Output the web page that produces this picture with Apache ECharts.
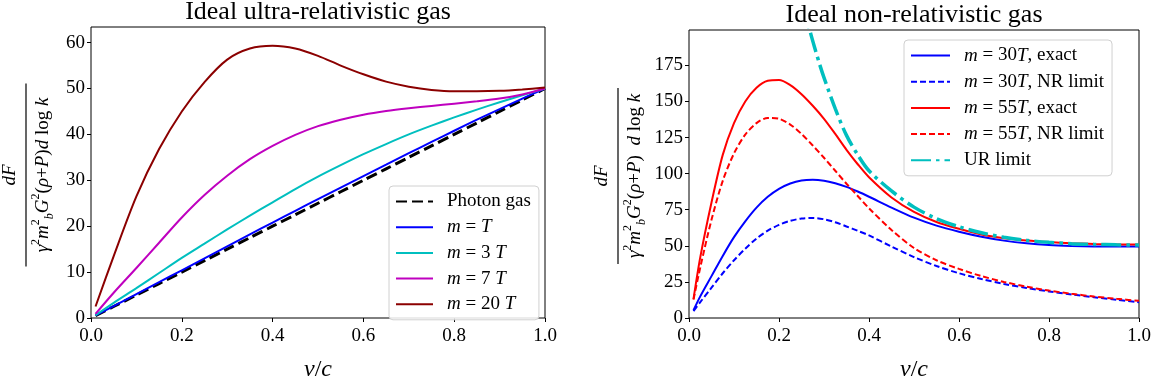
<!DOCTYPE html>
<html>
<head>
<meta charset="utf-8">
<script src="https://cdn.jsdelivr.net/npm/echarts@6/dist/echarts.min.js"></script>
<style>html,body{margin:0;padding:0;background:#fff}#c{width:1161px;height:387px}</style>
</head>
<body>
<div id="c"></div>
<script>
// ---------- data: left panel (ideal ultra-relativistic gas) ----------
const leftX = [0.01, 0.05, 0.10, 0.15, 0.20, 0.25, 0.30, 0.35, 0.40, 0.45, 0.50, 0.55, 0.60, 0.65, 0.70, 0.75, 0.80, 0.85, 0.90, 0.95, 1.00];
const photonGas = [0.5, 2.5, 5.0, 7.5, 10.0, 12.5, 15.0, 17.5, 20.0, 22.5, 25.0, 27.5, 30.0, 32.5, 35.0, 37.5, 40.0, 42.5, 45.0, 47.5, 50.0];
const m1T  = [0.55, 2.6, 5.2, 7.8, 10.4, 13.0, 15.6, 18.2, 20.8, 23.35, 25.9, 28.4, 30.9, 33.4, 35.9, 38.35, 40.8, 43.2, 45.5, 47.8, 50.0];
const m3T  = [0.6, 3.3, 6.5, 9.8, 13.1, 16.2, 19.3, 22.3, 25.2, 28.1, 30.8, 33.3, 35.7, 37.9, 40.0, 41.9, 43.7, 45.4, 47.0, 48.5, 50.0];
const m7T  = [0.9, 5.5, 10.9, 16.4, 21.9, 26.8, 31.0, 34.6, 37.5, 39.9, 41.8, 43.2, 44.3, 45.1, 45.7, 46.2, 46.7, 47.2, 47.8, 48.7, 50.0];
const m20T = [2.5, 13.5, 26.5, 36.8, 45.0, 51.4, 56.3, 58.7, 59.3, 58.7, 57.1, 55.0, 53.1, 51.5, 50.4, 49.7, 49.4, 49.4, 49.5, 49.8, 50.2];

// ---------- data: right panel (ideal non-relativistic gas) ----------
const rightX = [0.01, 0.025, 0.05, 0.075, 0.10, 0.125, 0.15, 0.175, 0.20, 0.225, 0.25, 0.275, 0.30, 0.325, 0.35, 0.375, 0.40, 0.45, 0.50, 0.55, 0.60, 0.65, 0.70, 0.75, 0.80, 0.85, 0.90, 0.95, 1.00];
const m30Exact = [5.4, 15, 29, 43, 56, 67, 76.5, 84, 89.5, 93.2, 95.3, 95.8, 95.1, 93.3, 90.8, 87.6, 84, 76.5, 69.5, 64, 59.8, 56.3, 53.6, 51.7, 50.5, 49.9, 49.6, 49.5, 49.5];
const m30NR    = [4.8, 11, 21, 31, 40, 48, 55, 60.5, 64.5, 67.3, 68.9, 69.3, 68.4, 66.3, 63.4, 60.4, 57.2, 49.5, 42.2, 36, 31, 27, 23.6, 20.8, 18.4, 16.3, 14.4, 12.6, 10.9];
const m55Exact = [13.1, 42, 80, 113, 135, 150, 159.5, 164.3, 164.8, 161.3, 155, 147, 138, 127.5, 116.5, 106.5, 97.5, 83.5, 73.5, 66.5, 61.8, 57.8, 55.3, 53.7, 52.6, 51.8, 51.3, 51.0, 50.9];
const m55NR    = [12.7, 35, 68, 95, 114, 127, 135, 138.6, 138, 134, 127.5, 119.5, 111, 102, 93, 84.5, 76, 61, 48.5, 40, 34, 29, 25, 21.7, 19, 16.8, 14.9, 13.3, 11.9];
const urX      = [0.24, 0.25, 0.26, 0.27, 0.28, 0.29, 0.30, 0.325, 0.35, 0.375, 0.40, 0.45, 0.50, 0.55, 0.60, 0.65, 0.70, 0.75, 0.80, 0.85, 0.90, 0.95, 1.00];
const urLimit  = [243, 226, 210, 197.5, 186.5, 176, 166.5, 145, 126.5, 113, 102, 88, 76.8, 68.8, 63.2, 59, 55.9, 53.8, 52.4, 51.5, 51.0, 50.7, 50.5];

// ---------- ticks ----------
const xTicks = [0, 0.2, 0.4, 0.6, 0.8, 1.0];
const leftYTicks = [0, 10, 20, 30, 40, 50, 60];
const rightYTicks = [0, 25, 50, 75, 100, 125, 150, 175];

const FONT = '"Liberation Serif", "DejaVu Serif", serif';
const pairs = (xs, ys) => xs.map((x, i) => [x, ys[i]]);

const legendLabels = {
  'Photon gas': 'Photon gas',
  'm = T': '{i|m} = {i|T}',
  'm = 3 T': '{i|m} = 3 {i|T}',
  'm = 7 T': '{i|m} = 7 {i|T}',
  'm = 20 T': '{i|m} = 20 {i|T}',
  'm = 30 T, exact': '{i|m} = 30{i|T}, exact',
  'm = 30 T, NR limit': '{i|m} = 30{i|T}, NR limit',
  'm = 55 T, exact': '{i|m} = 55{i|T}, exact',
  'm = 55 T, NR limit': '{i|m} = 55{i|T}, NR limit',
  'UR limit': 'UR limit'
};

function xAxisCfg(gi) {
  return {
    type: 'value', gridIndex: gi, min: 0, max: 1, interval: 0.2,
    axisLine: { show: false },
    axisTick: { show: true, length: 4, lineStyle: { color: '#000', width: 1 } },
    axisLabel: { color: '#000', fontFamily: FONT, fontSize: 19, margin: 9, formatter: v => v.toFixed(1),
                 customValues: xTicks },
    splitLine: { show: false },
    name: '{i|v}/{i|c}', nameLocation: 'middle', nameGap: 40,
    nameTextStyle: { color: '#000', fontFamily: FONT, fontSize: 24,
      rich: { i: { fontFamily: FONT, fontStyle: 'italic', fontSize: 24, color: '#000' } } }
  };
}
function yAxisCfg(gi, max, ticks) {
  return {
    type: 'value', gridIndex: gi, min: 0, max: max,
    axisLine: { show: false },
    axisTick: { show: true, length: 4, lineStyle: { color: '#000', width: 1 }, customValues: ticks },
    axisLabel: { color: '#000', fontFamily: FONT, fontSize: 19, margin: 6, customValues: ticks },
    splitLine: { show: false }
  };
}
function line(name, xi, xs, ys, color, width, type) {
  return {
    name: name, type: 'line', xAxisIndex: xi, yAxisIndex: xi,
    data: pairs(xs, ys), showSymbol: false, symbol: 'none', smooth: 0.3,
    lineStyle: { color: color, width: width, type: type || 'solid' },
    itemStyle: { color: color }, emphasis: { disabled: true }, animation: false
  };
}
function legendCfg(names, left, top, itemWidth, lineH, gap) {
  return {
    data: names, orient: 'vertical', left: left, top: top,
    itemWidth: itemWidth, itemHeight: 14, itemGap: gap,
    padding: [6, 8, 6, 6],
    itemStyle: { opacity: 0 },
    backgroundColor: 'rgba(255,255,255,0.85)', borderColor: '#d0d0d0', borderWidth: 1, borderRadius: 4,
    formatter: n => '{s|}' + legendLabels[n],
    textStyle: { color: '#000', fontFamily: FONT, fontSize: 19, lineHeight: lineH,
      rich: { s: { width: 9 }, i: { fontFamily: FONT, fontStyle: 'italic', fontSize: 19, color: '#000' } } },
    selectedMode: false
  };
}
function yLabel(cx, cy, barLen, numOff, denOff, spaced) {
  const rich = {
    i: { fontFamily: FONT, fontStyle: 'italic', fontSize: 19, lineHeight: 26, verticalAlign: 'middle', fill: '#000' },
    r: { fontFamily: FONT, fontSize: 19, lineHeight: 26, verticalAlign: 'middle', fill: '#000' },
    sp: { fontFamily: FONT, fontSize: 12, lineHeight: 13, verticalAlign: 'top', fill: '#000' },
    sb: { fontFamily: FONT, fontStyle: 'italic', fontSize: 12, lineHeight: 13, verticalAlign: 'bottom', fill: '#000' }
  };
  const den = '{i|γ}{sp|2}{i|m}{sp|2}{sb|b}{i|G}{sp|2}{r|(}{i|ρ}{r|+}{i|P}{r|)' + (spaced ? '  ' : '') + '}{i|d}{r| log }{i|k}';
  return {
    type: 'group', x: cx, y: cy, rotation: Math.PI / 2, silent: true,
    children: [
      { type: 'text', x: 0, y: -numOff, style: { text: '{i|dF}', rich: rich, align: 'center', verticalAlign: 'bottom' } },
      { type: 'line', shape: { x1: -barLen / 2, y1: 0, x2: barLen / 2, y2: 0 }, style: { stroke: '#000', lineWidth: 1.2 } },
      { type: 'text', x: 0, y: denOff, style: { text: den, rich: rich, align: 'center', verticalAlign: 'top' } }
    ]
  };
}

const chart = echarts.init(document.getElementById('c'), null, { renderer: 'canvas' });
chart.setOption({
  animation: false,
  backgroundColor: '#fff',
  grid: [
    { left: 91, top: 27, width: 454, height: 296, show: true, borderColor: '#000', borderWidth: 1, backgroundColor: 'transparent' },
    { left: 689, top: 30, width: 450, height: 293, show: true, borderColor: '#000', borderWidth: 1, backgroundColor: 'transparent' }
  ],
  xAxis: [xAxisCfg(0), xAxisCfg(1)],
  yAxis: [yAxisCfg(0, 63.4, leftYTicks), yAxisCfg(1, 199.5, rightYTicks)],
  legend: [
    legendCfg(['Photon gas', 'm = T', 'm = 3 T', 'm = 7 T', 'm = 20 T'], 389, 186, 37, 18, 6.7),
    legendCfg(['m = 30 T, exact', 'm = 30 T, NR limit', 'm = 55 T, exact', 'm = 55 T, NR limit', 'UR limit'], 904, 40, 39, 19, 7.2)
  ],
  graphic: [
    { type: 'text', x: 318, y: -1, silent: true, style: { text: 'Ideal ultra-relativistic gas', font: '26px ' + FONT, fill: '#000', align: 'center', verticalAlign: 'top' } },
    { type: 'text', x: 914, y: 2, silent: true, style: { text: 'Ideal non-relativistic gas', font: '26px ' + FONT, fill: '#000', align: 'center', verticalAlign: 'top' } },
    yLabel(26, 175, 183, 3, 4, false),
    yLabel(618, 176, 176, 3, 4, true)
  ],
  series: [
    line('Photon gas', 0, leftX, photonGas, '#000000', 3, [11, 5]),
    line('m = T', 0, leftX, m1T, '#0000ff', 2),
    line('m = 3 T', 0, leftX, m3T, '#00bfbf', 2),
    line('m = 7 T', 0, leftX, m7T, '#bf00bf', 2),
    line('m = 20 T', 0, leftX, m20T, '#8b0000', 2),
    line('m = 30 T, exact', 1, rightX, m30Exact, '#0000ff', 2),
    line('m = 30 T, NR limit', 1, rightX, m30NR, '#0000ff', 2, [6, 3]),
    line('m = 55 T, exact', 1, rightX, m55Exact, '#ff0000', 2),
    line('m = 55 T, NR limit', 1, rightX, m55NR, '#ff0000', 2, [6, 3]),
    line('UR limit', 1, urX, urLimit, '#00bfbf', 3.5, [20, 5, 3.5, 5])
  ]
});
</script>
</body>
</html>
